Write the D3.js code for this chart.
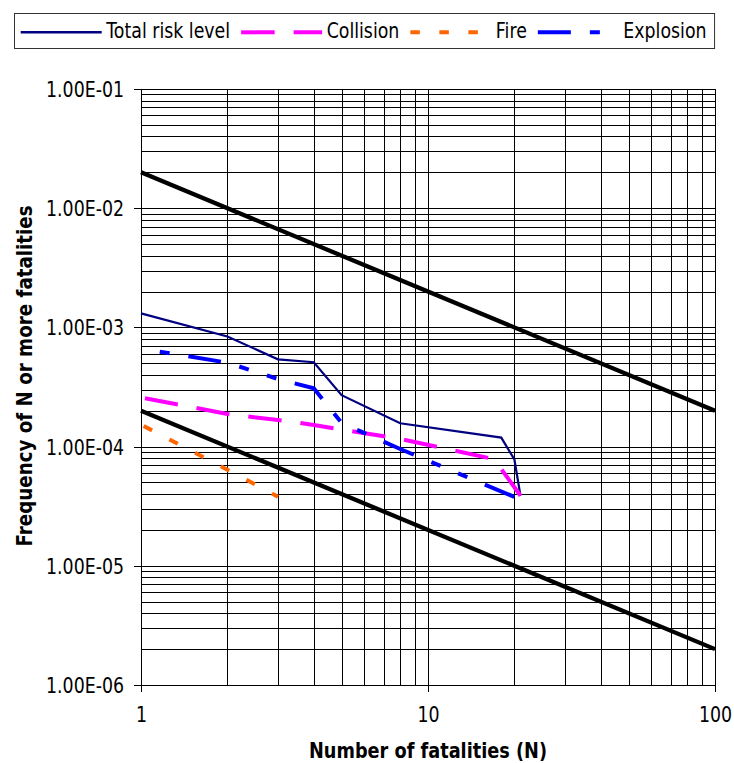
<!DOCTYPE html>
<html>
<head>
  <meta charset="utf-8">
  <title>F-N curve</title>
  <style>
    body { margin: 0; background: #fff; }
    text { font-family: "DejaVu Sans", sans-serif; fill: #000; }
    .grid line { stroke: #000; stroke-width: 1; shape-rendering: crispEdges; }
    .grid path { display: none; }
    .axis path, .axis line { fill: none; stroke: #000; shape-rendering: crispEdges; }
  </style>
  <script src="https://d3js.org/d3.v7.min.js"></script>
</head>
<body>
  <div id="chart"></div>
  <script>
    // values
    var seriesNames = ["Total risk level", "Collision", "Fire", "Explosion"];

    var totalN = [1, 2, 3, 4, 5, 8, 18, 20, 21];
    var totalF = [1.31e-3, 8.4e-4, 5.4e-4, 5.1e-4, 2.7e-4, 1.57e-4, 1.19e-4, 7.8e-5, 3.87e-5];

    var collisionN = [1, 2, 3, 4, 5, 8, 17, 21];
    var collisionF = [2.58e-4, 1.88e-4, 1.67e-4, 1.52e-4, 1.39e-4, 1.16e-4, 7.85e-5, 3.87e-5];

    var fireN = [1, 2, 3];
    var fireF = [1.53e-4, 6.4e-5, 3.8e-5];

    var explosionN = [1, 2, 3, 4, 5, 8, 20];
    var explosionF = [6.64e-4, 5.06e-4, 3.69e-4, 3.08e-4, 1.58e-4, 9.55e-5, 3.78e-5];

    // criteria lines
    var limitN = [1, 100];
    var upperLimitF = [2e-2, 2e-4];
    var lowerLimitF = [2e-4, 2e-6];

    var xTicks = [1, 10, 100];
    var yTicks = [1e-6, 1e-5, 1e-4, 1e-3, 1e-2, 1e-1];

    var xTitle = "Number of fatalities (N)";
    var yTitle = "Frequency of N or more fatalities";

    // styles
    var styles = [
      {color: "#000080", width: 2.2, dash: null, offset: 0},
      {color: "#ff00ff", width: 4, dash: "33.5,19", offset: -4},
      {color: "#ff6600", width: 4, dash: "9.5,19.5", offset: -3},
      {color: "#0000ff", width: 4, dash: "33,19,10,19,10,19", offset: 62}
    ];
    var squeeze = 0.843;   // the original font is narrower than DejaVu
    var fontSize = 20.6;

    var margin = {top: 89, right: 19, bottom: 78, left: 141},
        width = 734 - margin.left - margin.right,
        height = 763 - margin.top - margin.bottom;

    var svgRoot = d3.select("#chart").append("svg")
        .attr("width", 734)
        .attr("height", 763);

    var svg = svgRoot.append("g")
        .attr("transform", "translate(" + margin.left + "," + margin.top + ")");

    var x = d3.scaleLog().domain([1, 100]).range([0, width]);
    var y = d3.scaleLog().domain([1e-6, 1e-1]).range([height, 0]);

    // minor grid values: 1..9 in every decade
    function minorValues(majors) {
      var out = [];
      for (var i = 0; i < majors.length - 1; i++) {
        for (var m = 1; m < 10; m++) out.push(m * majors[i]);
      }
      out.push(majors[majors.length - 1]);
      return out;
    }

    svg.append("g")
      .attr("class", "grid")
      .call(d3.axisLeft(y).tickValues(minorValues(yTicks)).tickSize(-width).tickFormat(""));

    svg.append("g")
      .attr("class", "grid")
      .attr("transform", "translate(0," + height + ")")
      .call(d3.axisBottom(x).tickValues(minorValues(xTicks)).tickSize(-height).tickFormat(""));

    function sci(v) {
      var e = Math.round(Math.log10(v));
      var m = v / Math.pow(10, e);
      return m.toFixed(2) + "E" + (e < 0 ? "-" : "+") + String(Math.abs(e)).padStart(2, "0");
    }

    // axes
    svg.append("g")
      .attr("class", "axis")
      .call(d3.axisLeft(y).tickValues(yTicks).tickSize(7).tickSizeOuter(0).tickFormat(sci))
      .call(function(g) {
        g.selectAll("text")
          .attr("font-size", fontSize)
          .attr("font-family", "DejaVu Sans")
          .attr("x", -17 / squeeze)
          .attr("dy", "0.36em")
          .attr("transform", "scale(" + squeeze + ",1)");
      });

    svg.append("g")
      .attr("class", "axis")
      .attr("transform", "translate(0," + height + ")")
      .call(d3.axisBottom(x).tickValues(xTicks).tickSize(7).tickSizeOuter(0).tickFormat(d3.format("d")))
      .call(function(g) {
        g.selectAll("text")
          .attr("font-size", fontSize)
          .attr("font-family", "DejaVu Sans")
          .attr("y", 37)
          .attr("dy", 0)
          .attr("transform", "scale(" + squeeze + ",1)");
      });

    var line = d3.line()
      .x(function(d) { return x(d[0]); })
      .y(function(d) { return y(d[1]); });

    function zip(a, b) { return a.map(function(v, i) { return [v, b[i]]; }); }

    // criteria lines
    [upperLimitF, lowerLimitF].forEach(function(f) {
      svg.append("path")
        .datum(zip(limitN, f))
        .attr("fill", "none")
        .attr("stroke", "#000")
        .attr("stroke-width", 4.3)
        .attr("d", line);
    });

    var series = [zip(totalN, totalF), zip(collisionN, collisionF), zip(fireN, fireF), zip(explosionN, explosionF)];

    series.forEach(function(s, i) {
      var st = styles[i];
      svg.append("path")
        .datum(s)
        .attr("fill", "none")
        .attr("stroke", st.color)
        .attr("stroke-width", st.width)
        .attr("stroke-dasharray", st.dash)
        .attr("stroke-dashoffset", st.offset)
        .attr("stroke-linejoin", "miter")
        .attr("d", line);
    });

    // axis titles
    svgRoot.append("text")
      .attr("transform", "translate(" + (margin.left + x(10)) + ",758) scale(0.86,1)")
      .attr("text-anchor", "middle")
      .attr("font-weight", "bold")
      .attr("font-size", fontSize)
      .text(xTitle);

    svgRoot.append("text")
      .attr("transform", "translate(32,376) rotate(-90) scale(0.87,1)")
      .attr("text-anchor", "middle")
      .attr("font-weight", "bold")
      .attr("font-size", 21)
      .text(yTitle);

    // legend
    var legend = svgRoot.append("g");
    var lx = 20.7, sampleLen = 81, lineY = 32.3, textBase = 38.3;
    seriesNames.forEach(function(name, i) {
      var st = styles[i];
      legend.append("line")
        .attr("x1", lx).attr("x2", lx + sampleLen)
        .attr("y1", lineY).attr("y2", lineY)
        .attr("stroke", st.color)
        .attr("stroke-width", st.width === 4 ? 4 : 2.5)
        .attr("stroke-dasharray", st.dash);
      lx += sampleLen + 4.5;
      var t = legend.append("text")
        .attr("transform", "translate(" + lx + "," + textBase + ") scale(" + squeeze + ",1)")
        .attr("font-size", fontSize)
        .text(name);
      lx += t.node().getComputedTextLength() * squeeze + 11;
    });
    legend.insert("rect", ":first-child")
      .attr("x", 14.5).attr("y", 13.5)
      .attr("width", lx - 11 + 8 - 14.5).attr("height", 35)
      .attr("fill", "#fff")
      .attr("stroke", "#333")
      .attr("stroke-width", 1);
  </script>
</body>
</html>
